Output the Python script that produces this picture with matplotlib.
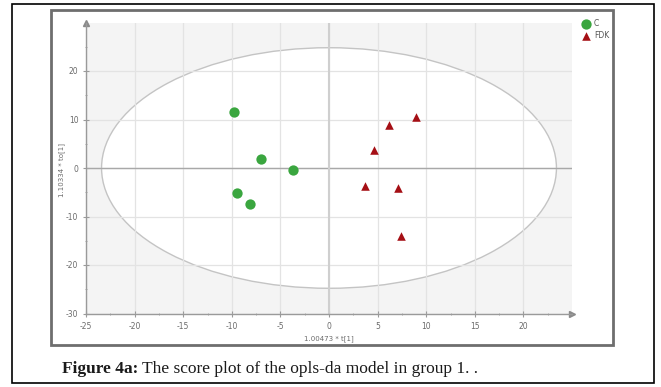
import numpy as np
import matplotlib
matplotlib.use('Agg')
import matplotlib.pyplot as plt
from matplotlib.patches import Ellipse, Rectangle

plt.rcParams['axes.unicode_minus'] = False

# scores
c_t = [-9.8, -7.0, -3.7, -9.5, -8.1]
c_to = [11.5, 1.9, -0.4, -5.2, -7.4]
fdk_t = [8.9, 6.2, 4.6, 3.7, 7.1, 7.4]
fdk_to = [10.5, 8.9, 3.7, -3.7, -4.2, -14.0]
groups = ['C', 'FDK']
ellipse_w = 23.4
ellipse_h = 24.8
xlab = '1.00473 * t[1]'
ylab = '1.10334 * to[1]'
caption_bold = 'Figure 4a:'
caption = ' The score plot of the opls-da model in group 1. .'

fig = plt.figure(figsize=(6.61, 3.87), dpi=100)
W, H = 661, 387

# outer black box and grey chart frame
fig.patches.append(Rectangle((12/W, 1-383/H), 642/W, 379/H, transform=fig.transFigure,
                             fill=False, ec='black', lw=1.2))
fig.patches.append(Rectangle((51/W, 1-345/H), 562/W, 335/H, transform=fig.transFigure,
                             fill=False, ec='#6e6e6e', lw=2))

ax = fig.add_axes([86/W, 1-313.5/H, 486/W, 291/H])
ax.set_facecolor('#f4f4f4')
ax.set_xlim(-25, 25)
ax.set_ylim(-30, 30)

ax.add_patch(Ellipse((0, 0), 2*ellipse_w, 2*ellipse_h, fc='white', ec='#c4c4c4', lw=1, zorder=0.5))
ax.set_xticks(np.arange(-25, 21, 5))
ax.set_yticks(np.arange(-30, 21, 10))
ax.set_xticks(np.arange(-22.5, 25, 2.5), minor=True)
ax.set_yticks(np.arange(-25, 30, 5), minor=True)
ax.grid(True, which='major', color='#e3e3e3', lw=0.9, zorder=0.7)
ax.set_axisbelow(True)
ax.axhline(0, color='#a8a8a8', lw=1, zorder=0.8)
ax.axvline(0, color='#cfcfcf', lw=1.5, zorder=0.8)

ax.scatter(c_t, c_to, s=55, color='#3aa63f', marker='o', label=groups[0], zorder=3, lw=0)
ax.scatter(fdk_t, fdk_to, s=38, color='#a50f15', marker='^', label=groups[1], zorder=3, lw=0)

for s in ['top', 'right']:
    ax.spines[s].set_visible(False)
for s in ['left', 'bottom']:
    ax.spines[s].set_color('#9a9a9a')
    ax.spines[s].set_linewidth(1)
ax.plot(1, 0, '>', color='#8a8a8a', ms=4, transform=ax.transAxes, clip_on=False)
ax.plot(0, 1, '^', color='#8a8a8a', ms=4, transform=ax.transAxes, clip_on=False)

ax.tick_params(which='both', colors='#9a9a9a', labelcolor='#6a6a6a', labelsize=5.5,
               direction='inout')
ax.tick_params(which='major', length=4)
ax.tick_params(which='minor', length=2)
ax.tick_params(axis='x', pad=4)

ax.text(0.5, -0.075, xlab, transform=ax.transAxes, ha='center', va='top',
        fontsize=5, color='#6a6a6a')
fig.text(62/W, 1-170/H, ylab, rotation=90, ha='center', va='center',
         fontsize=5, color='#6a6a6a')

leg = ax.legend(loc='upper left', bbox_to_anchor=(575/W, 1-16/H), bbox_transform=fig.transFigure,
                frameon=False, fontsize=5.5, handletextpad=0.1, labelspacing=0.4,
                borderaxespad=0, markerscale=1)
for t in leg.get_texts():
    t.set_color('#555555')

t1 = fig.text(62/W, 1-373/H, caption_bold, fontsize=12.5, fontweight='bold',
              family='Liberation Serif', va='baseline', color='#1a1a1a')
fig.canvas.draw()
bb = t1.get_window_extent()
fig.text(bb.x1/W, 1-373/H, caption, fontsize=12.5, family='Liberation Serif',
         va='baseline', color='#1a1a1a')

fig.savefig('out.png', dpi=100)
